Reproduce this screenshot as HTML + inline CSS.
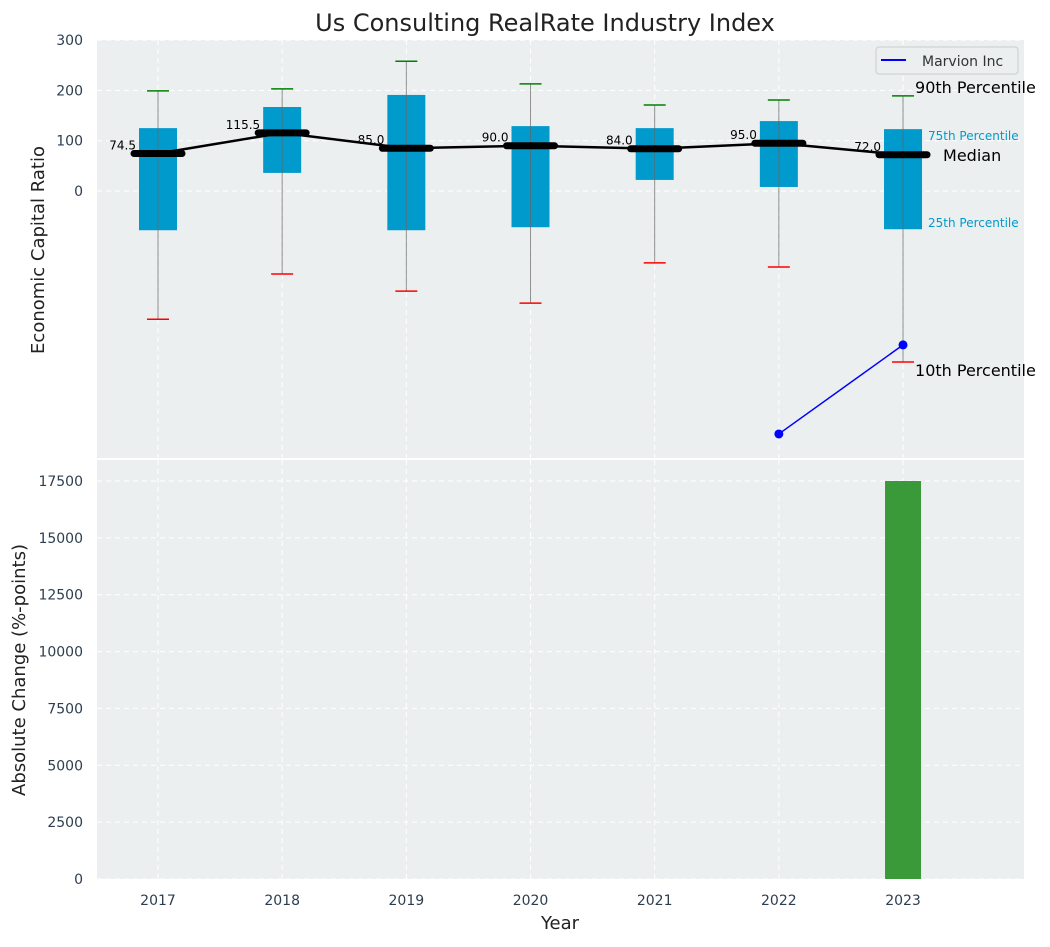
<!DOCTYPE html>
<html><head><meta charset="utf-8"><style>
body{margin:0;background:#fff;font-family:"Liberation Sans","DejaVu Sans",sans-serif;}
svg text{font-family:"DejaVu Sans","Liberation Sans",sans-serif;}
</style></head><body>
<svg id="chart" width="1050" height="942" xmlns="http://www.w3.org/2000/svg"></svg>
<script>
const years=['2017','2018','2019','2020','2021','2022','2023'];
const p90=[199,203,258,213,171,181,189];
const p75=[125,167,191,129,125,139,123];
const medians=[74.5,115.5,85,90,84,95,72];
const p25=[-78,36,-78,-72,22,8,-76];
const p10=[-255,-165,-199,-223,-143,-151,-340];
const companyYears=['2022','2023'];
const companyValues=[-483,-306];
const changeValues=[0,0,0,0,0,0,17500];
const topTicks=[0,100,200,300];
const bottomTicks=[0,2500,5000,7500,10000,12500,15000,17500];

const NS='http://www.w3.org/2000/svg';
const svg=document.getElementById('chart');
function el(tag,attrs,parent){const e=document.createElementNS(NS,tag);for(const k in attrs)e.setAttribute(k,attrs[k]);(parent||svg).appendChild(e);return e;}
const L=97,R=1024;
const xs=i=>158+i*124.17;
const yTop=v=>191-v*0.503;
const T0=40,T1=458,B0=460,B1=879;
const yBot=v=>879-v*(398/17500);

let e=el('rect',{x:L,y:T0,width:R-L,height:T1-T0,fill:'#ebeff0'});

e=el('rect',{x:L,y:B0,width:R-L,height:B1-B0,fill:'#ebeff0'});


years.forEach((y,i)=>{
  el('line',{x1:xs(i),x2:xs(i),y1:T0,y2:T1,stroke:'#fff','stroke-dasharray':'5,4','stroke-width':1});
  el('line',{x1:xs(i),x2:xs(i),y1:B0,y2:B1,stroke:'#fff','stroke-dasharray':'5,4','stroke-width':1});
  const t=el('text',{x:xs(i),y:905,'text-anchor':'middle','font-size':14,fill:'#2d3e50'});t.textContent=y;
  
});
topTicks.forEach(v=>{
  el('line',{x1:L,x2:R,y1:yTop(v),y2:yTop(v),stroke:'#fff','stroke-dasharray':'5,4'});
  const t=el('text',{x:83,y:yTop(v)+5,'text-anchor':'end','font-size':14,fill:'#2d3e50'});t.textContent=v;
  
});
bottomTicks.forEach(v=>{
  el('line',{x1:L,x2:R,y1:yBot(v),y2:yBot(v),stroke:'#fff','stroke-dasharray':'5,4'});
  const t=el('text',{x:83,y:yBot(v)+5,'text-anchor':'end','font-size':14,fill:'#2d3e50'});t.textContent=v;
  
});

years.forEach((y,i)=>{
  const x=xs(i);
  const b=el('rect',{x:x-19,y:yTop(p75[i]),width:38,height:yTop(p25[i])-yTop(p75[i]),fill:'#009acd'});
  
  el('line',{x1:x,x2:x,y1:yTop(p90[i]),y2:yTop(p10[i]),stroke:'#666','stroke-width':1,opacity:0.7});
  let w=el('line',{x1:x-11,x2:x+11,y1:yTop(p90[i]),y2:yTop(p90[i]),stroke:'green','stroke-width':1.5});
  
  w=el('line',{x1:x-11,x2:x+11,y1:yTop(p10[i]),y2:yTop(p10[i]),stroke:'red','stroke-width':1.5});
  
});
el('polyline',{points:medians.map((m,i)=>xs(i)+','+yTop(m)).join(' '),fill:'none',stroke:'#000','stroke-width':2.5});
years.forEach((y,i)=>{
  const x=xs(i),yy=yTop(medians[i]);
  const m=el('line',{x1:x-24,x2:x+24,y1:yy,y2:yy,stroke:'#000','stroke-width':7,'stroke-linecap':'round'});
  
  const t=el('text',{x:x-22,y:yy-4,'text-anchor':'end','font-size':12,fill:'#000'});t.textContent=medians[i].toFixed(1);
  
});
const cx=companyYears.map(y=>xs(years.indexOf(y)));
el('polyline',{points:companyValues.map((v,i)=>cx[i]+','+yTop(v)).join(' '),fill:'none',stroke:'blue','stroke-width':1.5});
companyValues.forEach((v,i)=>{const c=el('circle',{cx:cx[i],cy:yTop(v),r:4.5,fill:'blue'});
  });
const last=6,lx=xs(last);
[[lx+12,yTop(p90[last])-3,'90th Percentile',16,'#000'],[lx+25,yTop(p75[last])+11,'75th Percentile',12,'#009acd'],
 [lx+40,yTop(medians[last])+6,'Median',16,'#000'],[lx+25,yTop(p25[last])-2,'25th Percentile',12,'#009acd'],
 [lx+12,yTop(p10[last])+14,'10th Percentile',16,'#000']].forEach(a=>{
  const t=el('text',{x:a[0],y:a[1],'font-size':a[3],fill:a[4]});t.textContent=a[2];
  });
const lg=el('g',{});
el('rect',{x:876,y:47,width:142,height:27,rx:3,fill:'#ebeff0',stroke:'#ccc'},lg);
el('line',{x1:881,x2:906,y1:60,y2:60,stroke:'blue','stroke-width':2},lg);
let t=el('text',{x:922,y:66,'font-size':14,fill:'#333'},lg);t.textContent='Marvion Inc';
changeValues.forEach((v,i)=>{if(!v)return;const b=el('rect',{x:xs(i)-18,y:yBot(v),width:36,height:yBot(0)-yBot(v),fill:'#3a9a3a'});
  });
t=el('text',{x:545,y:31,'text-anchor':'middle','font-size':24,fill:'#222'});t.textContent='Us Consulting RealRate Industry Index';

t=el('text',{x:560,y:929,'text-anchor':'middle','font-size':18,fill:'#222'});t.textContent='Year';

t=el('text',{x:0,y:0,'text-anchor':'middle','font-size':18,fill:'#222',transform:'translate(44,250) rotate(-90)'});t.textContent='Economic Capital Ratio';

t=el('text',{x:0,y:0,'text-anchor':'middle','font-size':18,fill:'#222',transform:'translate(25,670) rotate(-90)'});t.textContent='Absolute Change (%-points)';

</script>
</body></html>
